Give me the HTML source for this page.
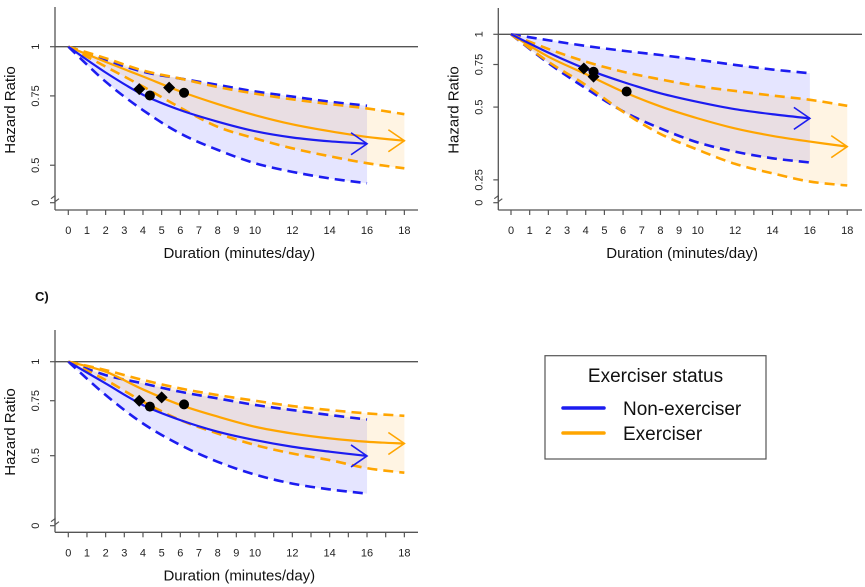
<!DOCTYPE html>
<html><head><meta charset="utf-8"><style>
html,body{margin:0;padding:0;background:#fff;}
svg{display:block;font-family:"Liberation Sans",sans-serif;}
</style></head><body>
<svg id="chart" width="865" height="587" viewBox="0 0 865 587"></svg>
<script>
// ---- data ----
const blueX = [0,2,4,6,8,10,12,14,16];
const orangeX = [0,2,4,6,8,10,12,14,16,18];
const xTickLabels = [0,1,2,3,4,5,6,7,8,9,10,12,14,16,18];
// Panel A
const aBlueMid = [1,.86,.755,.69,.645,.61,.588,.575,.567];
const aBlueLo = [1,.815,.69,.602,.547,.506,.481,.463,.45];
const aBlueHi = [1,.925,.864,.83,.8,.77,.747,.725,.708];
const aOrMid = [1,.915,.84,.77,.715,.67,.635,.61,.59,.577];
const aOrHi = [1,.935,.87,.83,.79,.76,.735,.715,.697,.674];
const aOrLo = [1,.89,.792,.7,.626,.585,.552,.527,.506,.491];
const aDiamondX = [3.8,5.4], aDiamondY = [.78,.787];
const aCircleX = [4.37,6.2], aCircleY = [.752,.764];
// Panel B
const bBlueMid = [1,.84,.72,.635,.57,.525,.49,.467,.449];
const bBlueHi = [1,.945,.895,.855,.821,.785,.747,.715,.69];
const bBlueLo = [1,.76,.598,.48,.408,.357,.327,.307,.295];
const bOrMid = [1,.808,.685,.579,.503,.449,.408,.38,.36,.343];
const bOrHi = [1,.87,.771,.7,.651,.61,.583,.558,.536,.506];
const bOrLo = [1,.77,.617,.478,.387,.333,.291,.266,.246,.237];
const bDiamondX = [3.9,4.42], bDiamondY = [.722,.668];
const bCircleX = [4.42,6.19], bCircleY = [.7,.58];
// Panel C
const cBlueMid = [1,.852,.726,.65,.597,.561,.534,.515,.499];
const cBlueLo = [1,.782,.634,.541,.478,.435,.407,.39,.378];
const cBlueHi = [1,.906,.852,.801,.763,.727,.7,.675,.653];
const cOrMid = [1,.929,.815,.727,.667,.619,.589,.568,.554,.547];
const cOrHi = [1,.94,.874,.821,.782,.75,.721,.7,.683,.671];
const cOrLo = [1,.874,.745,.65,.589,.541,.508,.484,.456,.441];
const cDiamondX = [3.8,5.0], cDiamondY = [.75,.769];
const cCircleX = [4.37,6.2], cCircleY = [.718,.73];
const yTicksAC = [1,0.75,0.5];
const yTicksB = [1,0.75,0.5,0.25];

const NS = "http://www.w3.org/2000/svg";
const svg = document.getElementById('chart');
function mk(tag, attrs, parent){
  const e = document.createElementNS(NS, tag);
  for (const k in attrs) e.setAttribute(k, attrs[k]);
  (parent||svg).appendChild(e);
  return e;
}
const BLUE = "#1c1cf0", ORANGE = "#ffa500";

function smooth(pts){
  let d = "M"+pts[0][0]+","+pts[0][1];
  for (let i=0;i<pts.length-1;i++){
    const p0=pts[Math.max(i-1,0)], p1=pts[i], p2=pts[i+1], p3=pts[Math.min(i+2,pts.length-1)];
    const c1=[p1[0]+(p2[0]-p0[0])/6, p1[1]+(p2[1]-p0[1])/6];
    const c2=[p2[0]-(p3[0]-p1[0])/6, p2[1]-(p3[1]-p1[1])/6];
    d += " C"+c1[0]+","+c1[1]+" "+c2[0]+","+c2[1]+" "+p2[0]+","+p2[1];
  }
  return d;
}

function panel(cfg){
  const g = mk('g', {});
  
  
  const sx = v => cfg.x0 + v*cfg.kx;
  const sy = v => cfg.y1 - cfg.ky*Math.log(v);
  const pts = (xs, ys) => xs.map((x,i)=>[sx(x), sy(ys[i])]);
  const band = (xs, lo, hi, fill, nm) => {
    const top = pts(xs, hi), bot = pts(xs, lo).reverse();
    const p = mk('path', {d: smooth(top)+" L"+bot[0][0]+","+bot[0][1]+smooth(bot).replace(/^M[^ ]+/,"")+" Z", fill: fill, stroke:"none"}, g);
    
    
  };
  band(blueX, cfg.bLo, cfg.bHi, "rgba(100,100,255,0.17)", 'non-exerciser-ci-band');
  band(orangeX, cfg.oLo, cfg.oHi, "rgba(255,190,90,0.17)", 'exerciser-ci-band');
  const ref = mk('line', {x1: cfg.axX, x2: cfg.axR, y1: sy(1), y2: sy(1), stroke:"#555", "stroke-width":1.3}, g);
  
  
  const ya = mk('line', {x1: cfg.axX, x2: cfg.axX, y1: cfg.axTop, y2: cfg.axBot, stroke:"#555", "stroke-width":1.3}, g);
  
  
  const xa = mk('line', {x1: cfg.axX, x2: cfg.axR, y1: cfg.axBot, y2: cfg.axBot, stroke:"#555", "stroke-width":1.3}, g);
  
  
  for (let i=0;i<=18;i++){
    mk('line', {x1: sx(i), x2: sx(i), y1: cfg.axBot, y2: cfg.axBot+5, stroke:"#555", "stroke-width":1.2}, g);
  }
  xTickLabels.forEach(v=>{
    const t = mk('text', {x: sx(v), y: cfg.axBot+24, "font-size":11, "text-anchor":"middle", fill:"#222"}, g);
    t.textContent = v;
    
    
  });
  const ticks = cfg.yTicks.map(v=>[v, sy(v)]).concat([[0, cfg.yZero]]);
  ticks.forEach(([v,y])=>{
    mk('line', {x1: cfg.axX-5, x2: cfg.axX, y1: y, y2: y, stroke:"#555", "stroke-width":1.2}, g);
    const t = mk('text', {x: cfg.axX-16, y: y, "font-size":11, "text-anchor":"middle", fill:"#222", transform:`rotate(-90 ${cfg.axX-16} ${y})`}, g);
    t.textContent = v;
    
    
  });
  mk('path', {d:`M${cfg.axX-4},${cfg.yZero-4} l4,-3 l0,6 l4,-3`, stroke:"#555", fill:"none", "stroke-width":1.2}, g);
  const yt = mk('text', {x: cfg.axX-40, y: cfg.yMid, "font-size":15, "text-anchor":"middle", fill:"#111", transform:`rotate(-90 ${cfg.axX-40} ${cfg.yMid})`}, g);
  yt.textContent = "Hazard Ratio";
  
  
  const xt = mk('text', {x: sx(9)+3, y: cfg.axBot+48, "font-size":15, "text-anchor":"middle", fill:"#111"}, g);
  xt.textContent = "Duration (minutes/day)";
  
  
  const line = (xs, ys, color, dashed, nm) => {
    const p = mk('path', {d: smooth(pts(xs, ys)), fill:"none", stroke: color, "stroke-width": dashed?2.6:2.2, "stroke-dasharray": dashed?"10 6":"none"}, g);
    
    
  };
  line(blueX, cfg.bHi, BLUE, true, 'non-exerciser-upper-ci');
  line(blueX, cfg.bLo, BLUE, true, 'non-exerciser-lower-ci');
  line(orangeX, cfg.oHi, ORANGE, true, 'exerciser-upper-ci');
  line(orangeX, cfg.oLo, ORANGE, true, 'exerciser-lower-ci');
  line(orangeX, cfg.oMid, ORANGE, false, 'exerciser-hr-line');
  line(blueX, cfg.bMid, BLUE, false, 'non-exerciser-hr-line');
  const arrow = (xs, ys, color, nm) => {
    const n = xs.length-1, ex = sx(xs[n]), ey = sy(ys[n]);
    const a = mk('path', {d:`M${ex-16},${ey-11} L${ex},${ey} L${ex-16},${ey+11}`, fill:"none", stroke:color, "stroke-width":1.6}, g);
    
    
  };
  arrow(blueX, cfg.bMid, BLUE, 'non-exerciser-arrow');
  arrow(orangeX, cfg.oMid, ORANGE, 'exerciser-arrow');
  cfg.dX.forEach((x,i)=>{
    const cx = sx(x), cy = sy(cfg.dY[i]);
    const d = mk('path', {d:`M${cx},${cy-6} L${cx+6},${cy} L${cx},${cy+6} L${cx-6},${cy} Z`, fill:"#000"}, g);
    
    
  });
  cfg.cX.forEach((x,i)=>{
    const c = mk('circle', {cx: sx(x), cy: sy(cfg.cY[i]), r:5, fill:"#000"}, g);
    
    
  });
}

panel({name:'panel-a', x0:68.3, kx:18.67, y1:46.7, ky:171, axX:55, axR:418, axTop:7, axBot:210, yZero:202.7, yMid:110, yTicks:yTicksAC,
  bMid:aBlueMid,bLo:aBlueLo,bHi:aBlueHi,oMid:aOrMid,oLo:aOrLo,oHi:aOrHi,dX:aDiamondX,dY:aDiamondY,cX:aCircleX,cY:aCircleY});
panel({name:'panel-b', x0:511, kx:18.68, y1:34.3, ky:105, axX:498.3, axR:862, axTop:8, axBot:210, yZero:202.7, yMid:110, yTicks:yTicksB,
  bMid:bBlueMid,bLo:bBlueLo,bHi:bBlueHi,oMid:bOrMid,oLo:bOrLo,oHi:bOrHi,dX:bDiamondX,dY:bDiamondY,cX:bCircleX,cY:bCircleY});
panel({name:'panel-c', x0:68.3, kx:18.67, y1:361.7, ky:135.6, axX:55, axR:418, axTop:330, axBot:532.3, yZero:525.7, yMid:432, yTicks:yTicksAC,
  bMid:cBlueMid,bLo:cBlueLo,bHi:cBlueHi,oMid:cOrMid,oLo:cOrLo,oHi:cOrHi,dX:cDiamondX,dY:cDiamondY,cX:cCircleX,cY:cCircleY});

const lab = mk('text', {x:35, y:301, "font-size":13, "font-weight":"bold", fill:"#111"});
lab.textContent = "C)";



const lg = mk('g', {});


mk('rect', {x:545, y:355.7, width:221, height:103.3, fill:"#fff", stroke:"#555", "stroke-width":1.2}, lg);
const lt = mk('text', {x:655.5, y:382, "font-size":19, "text-anchor":"middle", fill:"#111"}, lg);
lt.textContent = "Exerciser status";


const entries = [["Non-exerciser", BLUE, 408], ["Exerciser", ORANGE, 433]];
entries.forEach(([txt,col,y])=>{
  const l = mk('line', {x1:563, x2:604, y1:y, y2:y, stroke:col, "stroke-width":3.5, "stroke-linecap":"round"}, lg);
  
  
  const t = mk('text', {x:623, y:y+7, "font-size":19, fill:"#111"}, lg);
  t.textContent = txt;
  
  
});
</script>
</body></html>
